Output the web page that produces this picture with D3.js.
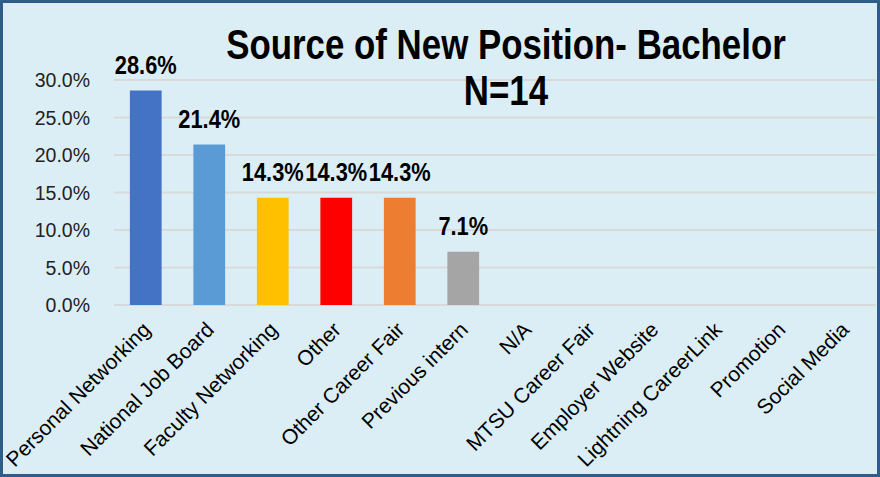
<!DOCTYPE html>
<html>
<head>
<meta charset="utf-8">
<script src="https://cdn.jsdelivr.net/npm/d3@7"></script>
<style>
  body { margin: 0; background: #fff; }
  text { font-family: "Liberation Sans", Arial, sans-serif; }
</style>
</head>
<body>
<div id="chart"></div>
<script>
// data
const categories = ["Personal Networking", "National Job Board", "Faculty Networking", "Other",
    "Other Career Fair", "Previous intern", "N/A", "MTSU Career Fair", "Employer Website",
    "Lightning CareerLink", "Promotion", "Social Media"];
const shares = [0.286, 0.214, 0.143, 0.143, 0.143, 0.071, 0, 0, 0, 0, 0, 0];
const barColors = ["#4472C4", "#5B9BD5", "#FFC000", "#FF0000", "#ED7D31", "#A5A5A5",
    "#A5A5A5", "#A5A5A5", "#A5A5A5", "#A5A5A5", "#A5A5A5", "#A5A5A5"];
const yTicks = [0, 0.05, 0.10, 0.15, 0.20, 0.25, 0.30];
const titleLines = ["Source of New Position- Bachelor", "N=14"];

const W = 880, H = 477;
const svg = d3.select("#chart").append("svg")
    .attr("width", W)
    .attr("height", H);

// frame
svg.append("rect")
    .attr("x", 1.5).attr("y", 1.5)
    .attr("width", W - 3).attr("height", H - 3)
    .attr("fill", "#DCEEF5")
    .attr("stroke", "#2F5C88")
    .attr("stroke-width", 3);

const x = d3.scaleBand()
    .domain(categories)
    .range([114, 876])
    .paddingInner(0.5)
    .paddingOuter(0.25);

const y = d3.scaleLinear()
    .domain([0, 0.30])
    .range([305, 80]);

// gridlines
svg.append("g")
    .selectAll("line")
    .data(yTicks)
    .join("line")
    .attr("x1", 114).attr("x2", 876)
    .attr("y1", d => y(d)).attr("y2", d => y(d))
    .attr("stroke", "#D9D9D9")
    .attr("stroke-width", 2);

// y axis labels
const yAxis = d3.axisLeft(y)
    .tickValues(yTicks)
    .tickFormat(d3.format(".1%"))
    .tickSize(0)
    .tickPadding(0);
const yg = svg.append("g")
    .attr("transform", "translate(90,0)")
    .call(yAxis);
yg.select(".domain").remove();
yg.selectAll("text")
    .attr("font-size", 19.5)
    .attr("font-family", "Liberation Sans, Arial, sans-serif")
    .attr("fill", "#222")
    .attr("dy", "0.35em");

// bars
svg.append("g")
    .selectAll("rect")
    .data(categories)
    .join("rect")
    .attr("x", d => x(d))
    .attr("width", x.bandwidth())
    .attr("y", (d, i) => y(shares[i]))
    .attr("height", (d, i) => y(0) - y(shares[i]))
    .attr("fill", (d, i) => barColors[i]);

// value labels
svg.append("g")
    .selectAll("text")
    .data(categories.filter((d, i) => shares[i] > 0))
    .join("text")
    .attr("transform", (d, i) => {
        const cx = x(d) + x.bandwidth() / 2;
        return "translate(" + cx + "," + (y(shares[i]) - 17) + ") scale(0.84,1)";
    })
    .attr("text-anchor", "middle")
    .attr("font-size", 26)
    .attr("font-weight", "bold")
    .attr("fill", "#000")
    .text((d, i) => d3.format(".1%")(shares[i]));

// category labels
const xAxis = d3.axisBottom(x).tickSize(0).tickPadding(0);
const xg = svg.append("g")
    .attr("transform", "translate(0,305)")
    .call(xAxis);
xg.select(".domain").remove();
xg.selectAll("text")
    .attr("font-size", 21)
    .attr("font-family", "Liberation Sans, Arial, sans-serif")
    .attr("fill", "#000")
    .attr("text-anchor", "end")
    .attr("dy", 0)
    .attr("y", 0)
    .attr("transform", "translate(6,26) rotate(-45)");

// title
svg.append("g")
    .selectAll("text")
    .data(titleLines)
    .join("text")
    .attr("transform", (d, i) => "translate(506," + (59 + i * 46) + ") scale(0.83,1)")
    .attr("text-anchor", "middle")
    .attr("font-size", 42)
    .attr("font-weight", "bold")
    .attr("fill", "#000")
    .text(d => d);
</script>
</body>
</html>
